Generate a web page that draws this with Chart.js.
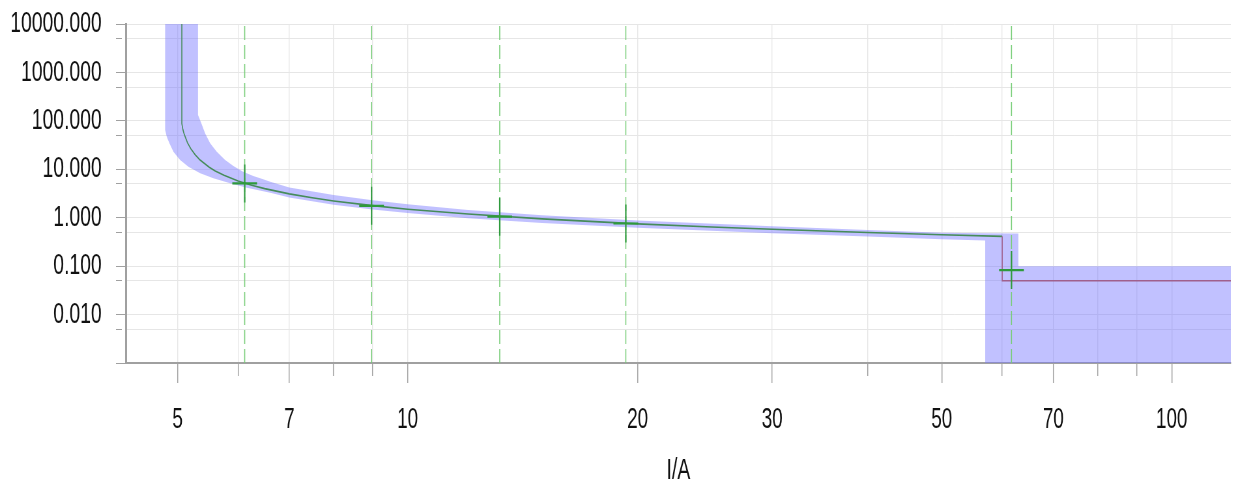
<!DOCTYPE html>
<html>
<head>
<meta charset="utf-8">
<script src="https://cdn.jsdelivr.net/npm/chart.js@4"></script>
<style>
html, body { margin: 0; padding: 0; background: #fff; }
</style>
</head>
<body>
<!-- drawn wide and squeezed to 1238px, like the narrow lettering of the original -->
<canvas id="chart" width="1900" height="487" style="display:block;width:1238px;height:487px"></canvas>
<script>
// trip characteristic, current (A) against time (s)
const curveI = [5.064, 5.064, 5.08, 5.1, 5.15, 5.2, 5.27, 5.35, 5.5, 5.6, 5.75, 6, 6.25, 6.5, 7, 7.5, 8, 9, 10, 12, 15, 20, 25, 30, 40, 50, 60];
const curveT = [10000, 88, 66, 53, 35.5, 26.8, 20, 15.5, 11.0, 9.25, 7.5, 5.75, 4.7, 3.99, 3.11, 2.58, 2.22, 1.78, 1.50, 1.19, 0.945, 0.747, 0.642, 0.576, 0.495, 0.446, 0.412];

const stepI = [60, 60, 130];
const stepT = [0.412, 0.05, 0.05];

// tolerance band edges
const bandUpperI = [5.317, 5.317, 5.381, 5.433, 5.515, 5.626, 5.77, 5.915, 6.09, 6.28, 6.47, 6.61, 7, 8, 9, 10, 12, 15, 20, 30, 40, 50, 57, 63, 63, 130];
const bandUpperT = [20000, 132, 82, 55, 34.4, 23.1, 15.6, 11.7, 8.9, 7.3, 6.2, 5.5, 4.2, 2.95, 2.3, 1.9, 1.45, 1.13, 0.88, 0.67, 0.56, 0.49, 0.48, 0.47, 0.1, 0.1];
const bandLowerI = [4.815, 4.815, 4.839, 4.878, 4.937, 5.038, 5.165, 5.352, 5.569, 5.858, 6.16, 6.61, 7, 8, 9, 10, 12, 15, 20, 30, 40, 50, 57, 57, 130];
const bandLowerT = [20000, 64.8, 47, 34.4, 23.1, 15.6, 11.3, 8.27, 6.5, 5.14, 4.17, 3.29, 2.6, 1.85, 1.48, 1.25, 0.98, 0.78, 0.62, 0.48, 0.41, 0.36, 0.34, 0.0005, 0.0005];

const testI = [6.12, 8.97, 13.2, 19.3, 61.7];
const testT = [5.1, 1.76, 1.05, 0.76, 0.083];

const xTicks = [5, 6, 7, 8, 9, 10, 20, 30, 40, 50, 60, 70, 80, 90, 100];
const xLabels = [5, 7, 10, 20, 30, 50, 70, 100];
const yTicks = [0.001, 0.005, 0.01, 0.05, 0.1, 0.5, 1, 5, 10, 50, 100, 500, 1000, 5000, 10000];
const yLabels = [0.001, 0.01, 0.1, 1, 10, 100, 1000, 10000];

const xMin = 4.28, xMax = 119.5;
const yMin = 0.001, yMax = 10000;

const fontFamily = "'Liberation Sans', Arial, sans-serif";

function pts(xs, ys) {
    return xs.map((x, i) => ({x: x, y: ys[i]}));
}

// minor ticks only get a short stub
function tickDash(labels, len) {
    return function (ctx) {
        if (!ctx.tick || labels.includes(ctx.tick.value)) {
            return [];
        }
        return [len, 200];
    };
}

let bandPts = pts(bandUpperI, bandUpperT).concat(pts(bandLowerI, bandLowerT).reverse());

let guides = testI.map(function (v) {
    return {
        data: [{x: v, y: yMin}, {x: v, y: yMax}],
        borderColor: 'rgb(120, 205, 120)',
        borderWidth: 1.6,
        borderDash: [14, 5],
        pointRadius: 0,
        fill: false
    };
});

// datasets earlier in the list are drawn on top
let datasets = [
    {
        data: pts(testI, testT),
        showLine: false,
        pointStyle: 'cross',
        pointRadius: 19,
        pointBorderWidth: 2.2,
        pointBorderColor: '#2e9a3c',
        pointBackgroundColor: '#2e9a3c'
    },
    {
        data: pts(stepI, stepT),
        borderColor: '#a0608c',
        borderWidth: 1.6,
        pointRadius: 0,
        fill: false
    },
    {
        data: pts(curveI, curveT),
        borderColor: '#468c5a',
        borderWidth: 1.6,
        pointRadius: 0,
        fill: false
    }
].concat(guides).concat([
    {
        data: bandPts,
        fill: 'shape',
        backgroundColor: 'rgba(120, 120, 255, 0.46)',
        borderWidth: 0,
        pointRadius: 0
    }
]);

new Chart(document.getElementById('chart'), {
    type: 'line',
    data: {datasets: datasets},
    options: {
        responsive: false,
        animation: false,
        layout: {autoPadding: false, padding: {left: 0, right: 11, top: 24, bottom: 0}},
        plugins: {
            legend: {display: false},
            tooltip: {enabled: false}
        },
        scales: {
            x: {
                type: 'logarithmic',
                min: xMin,
                max: xMax,
                afterBuildTicks: function (axis) {
                    axis.ticks = xTicks.map(v => ({value: v}));
                },
                afterFit: function (scale) {
                    scale.height = 124;
                    scale.paddingLeft = 0;
                    scale.paddingRight = 0;
                },
                ticks: {
                    autoSkip: false,
                    maxRotation: 0,
                    padding: 20,
                    color: '#111',
                    font: {family: fontFamily, size: 29},
                    callback: v => xLabels.includes(v) ? String(v) : ''
                },
                grid: {
                    color: '#e6e6e6',
                    lineWidth: 1.4,
                    tickColor: '#a0a0a0',
                    tickWidth: 1.5,
                    tickLength: 20,
                    tickBorderDash: tickDash(xLabels, 12)
                },
                border: {color: '#a0a0a0', width: 2},
                title: {
                    display: true,
                    text: 'I/A',
                    color: '#111',
                    font: {family: fontFamily, size: 30, lineHeight: 1.1},
                    padding: {top: 0, bottom: 0}
                }
            },
            y: {
                type: 'logarithmic',
                min: yMin,
                max: yMax,
                afterBuildTicks: function (axis) {
                    axis.ticks = yTicks.map(v => ({value: v}));
                },
                afterFit: function (scale) {
                    scale.width = 193.4;
                    scale.paddingTop = 0;
                    scale.paddingBottom = 0;
                },
                ticks: {
                    autoSkip: false,
                    padding: 22,
                    color: '#111',
                    font: {family: fontFamily, size: 29.7},
                    callback: v => (yLabels.includes(v) && v > yMin) ? v.toFixed(3) : ''
                },
                grid: {
                    color: '#e6e6e6',
                    tickColor: '#a0a0a0',
                    tickLength: 15.4,
                    tickBorderDash: tickDash(yLabels, 9)
                },
                border: {color: '#a0a0a0', width: 3}
            }
        }
    }
});
</script>
</body>
</html>
